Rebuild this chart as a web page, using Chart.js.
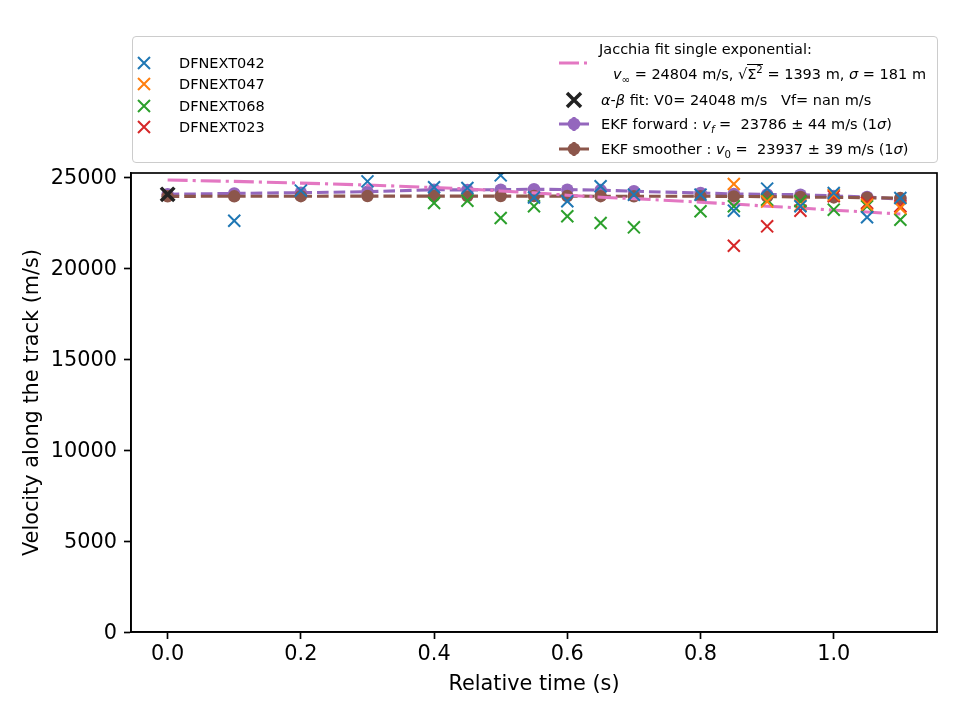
<!DOCTYPE html>
<html>
<head>
<meta charset="utf-8">
<script src="https://cdn.jsdelivr.net/npm/chart.js@4.4.0/dist/chart.umd.min.js"></script>
<style>
	body { margin: 0; background: #fff; }
	#wrap { position: relative; width: 960px; height: 720px; font-family: "DejaVu Sans", sans-serif; }
	#mycanvas { position: absolute; left: 0; top: 0; }
	#legend { position: absolute; left: 132px; top: 36px; width: 804px; height: 125px;
		border: 1.5px solid #cccccc; border-radius: 4px; background: rgba(255,255,255,0.8); font-size: 14.5px; color: #000; }
	#legend .it { position: absolute; white-space: pre; line-height: 18px; transform: translateY(-50%); }
	#legend svg { position: absolute; overflow: visible; }
	.m { font-style: italic; }
	sub, sup { font-size: 70%; line-height: 0; }
	.rad { border-top: 1px solid #000; padding-top: 1px; }
</style>
</head>
<body>
<div id="wrap">
<canvas id="mycanvas" width="960" height="720"></canvas>
<div id="legend">
	<svg style="left:0;top:0" width="804" height="125">
		<g stroke-width="2">
			<path d="M5 20 L17 32 M17 20 L5 32" stroke="#1f77b4"/>
			<path d="M5 41 L17 53 M17 41 L5 53" stroke="#ff7f0e"/>
			<path d="M5 63 L17 75 M17 63 L5 75" stroke="#2ca02c"/>
			<path d="M5 84 L17 96 M17 84 L5 96" stroke="#d62728"/>
		</g>
		<path d="M426 26 L446 26 M451 26 L454 26" stroke="#e377c2" stroke-width="3.1"/>
		<path d="M434 56 L448 70 M448 56 L434 70" stroke="#222" stroke-width="3.5"/>
		<path d="M426 87 L456 87 M441 80 L441 94" stroke="#9467bd" stroke-width="3.1"/>
		<circle cx="441" cy="87" r="6.25" fill="#9467bd"/>
		<path d="M426 112 L456 112 M441 105 L441 119" stroke="#8c564b" stroke-width="3.1"/>
		<circle cx="441" cy="112" r="6.25" fill="#8c564b"/>
	</svg>
	<div class="it" style="left:46px;top:26px">DFNEXT042</div>
	<div class="it" style="left:46px;top:47px">DFNEXT047</div>
	<div class="it" style="left:46px;top:69px">DFNEXT068</div>
	<div class="it" style="left:46px;top:90px">DFNEXT023</div>
	<div class="it" style="left:466px;top:12px">Jacchia fit single exponential:</div>
	<div class="it" style="left:480px;top:37px"><span class="m">v</span><sub>∞</sub> = 24804 m/s, √<span class="rad">Σ<sup>2</sup></span> = 1393 m, <span class="m">σ</span> = 181 m</div>
	<div class="it" style="left:468px;top:63px"><span class="m">α</span>-<span class="m">β</span> fit: V0= 24048 m/s   Vf= nan m/s</div>
	<div class="it" style="left:468px;top:87px">EKF forward : <span class="m">v<sub>f</sub></span> =  23786 ± 44 m/s (1<span class="m">σ</span>)</div>
	<div class="it" style="left:468px;top:112px">EKF smoother : <span class="m">v</span><sub>0</sub> =  23937 ± 39 m/s (1<span class="m">σ</span>)</div>
</div>
</div>
<script>
// observation times (s)
var times = [0, 0.1, 0.2, 0.3, 0.4, 0.45, 0.5, 0.55, 0.6, 0.65, 0.7, 0.8, 0.85, 0.9, 0.95, 1.0, 1.05, 1.1];
var times_late = [0.85, 0.9, 0.95, 1.0, 1.05, 1.1];
var times_068 = [0.4, 0.45, 0.5, 0.55, 0.6, 0.65, 0.7, 0.8, 0.85, 0.9, 0.95, 1.0, 1.05, 1.1];

// per-camera velocities (m/s)
var v_042 = [24050, 22600, 24250, 24760, 24435, 24395, 25090, 23870, 23665, 24490, 24030, 24030, 23150, 24360, 23390, 24120, 22785, 23846];
var v_047 = [24615, 23650, 23450, 24030, 23480, 23300];
var v_068 = [23570, 23700, 22750, 23390, 22840, 22470, 22235, 23115, 23390, 23755, 23665, 23205, 23390, 22655];
var v_023 = [21225, 22290, 23150, 23940, 23570, 23390];

// fits
var jacchia = [24835, 24760, 24665, 24560, 24420, 24345, 24230, 24130, 24000, 23890, 23810, 23615, 23515, 23395, 23300, 23175, 23075, 22965];
var ab_t = [0];
var ab_v = [24048];
var ekf_fwd = [24048, 24100, 24140, 24190, 24300, 24290, 24305, 24330, 24305, 24280, 24215, 24120, 24070, 24040, 24030, 23960, 23900, 23786];
var ekf_smooth = [23937, 23940, 23945, 23950, 23950, 23950, 23950, 23950, 23950, 23945, 23940, 23940, 23935, 23920, 23900, 23880, 23860, 23840];

var x_ticks = [0, 0.2, 0.4, 0.6, 0.8, 1.0];
var y_ticks = [0, 5000, 10000, 15000, 20000, 25000];

function pts(t, v) {
	var out = [];
	for (var i in t) {
		out.push({x: t[i], y: v[i]});
	}
	return out;
}

function crossSet(label, t, v, color) {
	return {
		label: label,
		data: pts(t, v),
		showLine: false,
		pointStyle: 'crossRot',
		pointRadius: 8.5,
		pointBorderWidth: 2,
		borderColor: color,
		backgroundColor: color,
		order: 2
	};
}

var framePlugin = {
	id: 'frame',
	afterDraw: function(chart) {
		var a = chart.chartArea;
		var c = chart.ctx;
		c.save();
		c.strokeStyle = '#000';
		c.lineWidth = 1.67;
		c.strokeRect(a.left, a.top, a.right - a.left, a.bottom - a.top);
		c.restore();
	}
};

var chartdata = {
	datasets: [
		{
			label: 'alpha-beta',
			data: pts(ab_t, ab_v),
			showLine: false,
			pointStyle: 'crossRot',
			pointRadius: 9.5,
			pointBorderWidth: 3.5,
			borderColor: '#222222',
			backgroundColor: '#222222',
			order: 0
		},
		crossSet('DFNEXT042', times, v_042, '#1f77b4'),
		crossSet('DFNEXT047', times_late, v_047, '#ff7f0e'),
		crossSet('DFNEXT068', times_068, v_068, '#2ca02c'),
		crossSet('DFNEXT023', times_late, v_023, '#d62728'),
		{
			label: 'Jacchia',
			data: pts(times, jacchia),
			showLine: true,
			borderColor: '#e377c2',
			borderWidth: 3.1,
			borderDash: [20, 5, 3.1, 5],
			pointRadius: 0,
			order: 4
		},
		{
			label: 'EKF smoother',
			data: pts(times, ekf_smooth),
			showLine: true,
			borderColor: '#8c564b',
			backgroundColor: '#8c564b',
			borderWidth: 3.1,
			borderDash: [11.6, 5],
			pointRadius: 6.25,
			pointBorderWidth: 0,
			order: 5
		},
		{
			label: 'EKF forward',
			data: pts(times, ekf_fwd),
			showLine: true,
			borderColor: '#9467bd',
			backgroundColor: '#9467bd',
			borderWidth: 3.1,
			borderDash: [11.6, 5],
			pointRadius: 6.25,
			pointBorderWidth: 0,
			order: 6
		}
	]
};

var ctx = document.getElementById('mycanvas');

var LineGraph = new Chart(ctx, {
	type: 'scatter',
	data: chartdata,
	plugins: [framePlugin],
	options: {
		responsive: false,
		animation: false,
		layout: { padding: { left: 0, top: 173, right: 23, bottom: 0 } },
		plugins: { legend: { display: false }, tooltip: { enabled: false } },
		scales: {
			x: {
				type: 'linear',
				min: -0.055,
				max: 1.155,
				afterFit: function(s) { s.height = 88; },
				afterBuildTicks: function(s) { s.ticks = x_ticks.map(function(v){ return {value: v}; }); },
				grid: { display: true, drawOnChartArea: false, drawTicks: true, tickLength: 7, tickWidth: 1.67, color: '#000' },
				border: { display: true, color: '#000', width: 1.67 },
				ticks: {
					padding: 3,
					color: '#000',
					font: { family: 'DejaVu Sans', size: 20.8 },
					callback: function(v) { return v.toFixed(1); }
				},
				title: {
					display: true,
					text: 'Relative time (s)',
					color: '#000',
					font: { family: 'DejaVu Sans', size: 20.8 },
					padding: { top: 0, bottom: 23 }
				}
			},
			y: {
				type: 'linear',
				min: 0,
				max: 25220,
				afterFit: function(s) { s.width = 131; },
				afterBuildTicks: function(s) { s.ticks = y_ticks.map(function(v){ return {value: v}; }); },
				grid: { display: true, drawOnChartArea: false, drawTicks: true, tickLength: 7, tickWidth: 1.67, color: '#000' },
				border: { display: true, color: '#000', width: 1.67 },
				ticks: {
					padding: 7,
					labelOffset: 2,
					color: '#000',
					font: { family: 'DejaVu Sans', size: 20.8 },
					callback: function(v) { return String(v); }
				},
				title: {
					display: true,
					text: 'Velocity along the track (m/s)',
					color: '#000',
					font: { family: 'DejaVu Sans', size: 20.8 },
					padding: { top: 20, bottom: 0 }
				}
			}
		}
	}
});
</script>
</body>
</html>
